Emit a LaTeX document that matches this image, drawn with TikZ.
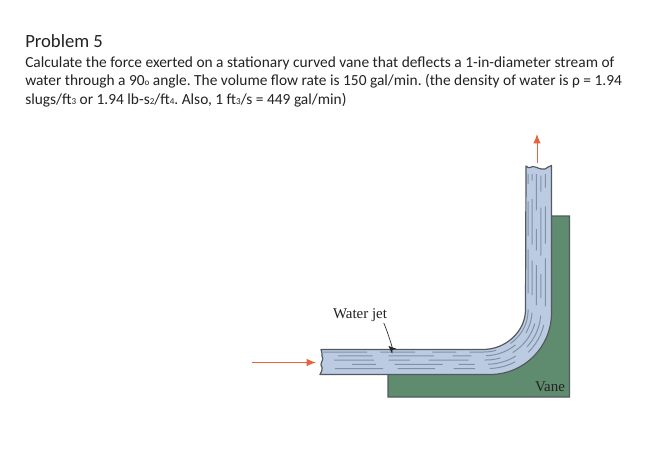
\documentclass[tikz,border=0pt]{standalone}
\usepackage{fontspec}
\setmainfont{Carlito}
\newfontfamily\figfont{Liberation Serif}
\usetikzlibrary{arrows.meta}
\definecolor{waterc}{HTML}{BACBE2}
\definecolor{vanec}{HTML}{5F8C6E}
\definecolor{edgec}{HTML}{55595F}
\definecolor{linec}{HTML}{8491A3}
\definecolor{redc}{HTML}{E9623F}
\definecolor{textc}{HTML}{222222}
\newcommand{\smallsub}[1]{{\fontsize{6.8}{7}\selectfont #1}}
\tikzset{
  titletext/.style={anchor=base west,inner sep=0pt,font=\fontsize{14}{16}\selectfont,text=textc},
  bodytext/.style={anchor=base west,inner sep=0pt,font=\fontsize{11.55}{13}\selectfont,text=textc},
  figlabel/.style={anchor=base,inner sep=0pt,font=\figfont\fontsize{11.2}{13}\selectfont,text=textc},
  flowarrow/.style={draw=redc,line width=0.7pt,-{Latex[length=7pt,width=5.5pt]}},
  pointer/.style={draw=black!85,line width=0.5pt,-{Stealth[length=6pt,width=5pt]}},
  vanebody/.style={fill=vanec,draw=edgec,line width=0.8pt},
  jetbody/.style={fill=waterc,draw=edgec,line width=0.9pt,line join=round},
  streamline/.style={draw=linec,line width=0.75pt},
  patA/.style={dash pattern=on 33pt off 10pt on 26pt off 13pt on 18pt off 10pt on 20pt off 12pt on 30pt off 12pt},
  patB/.style={dash pattern=on 26pt off 12pt on 34pt off 14pt on 14pt off 11pt on 24pt off 12pt on 16pt off 13pt},
  patC/.style={dash pattern=on 30pt off 11pt on 16pt off 14pt on 30pt off 12pt on 12pt off 10pt on 28pt off 14pt},
  patD/.style={dash pattern=on 18pt off 14pt on 36pt off 12pt on 12pt off 10pt on 22pt off 11pt on 26pt off 13pt},
  patE/.style={dash pattern=on 36pt off 11pt on 28pt off 14pt on 16pt off 11pt on 20pt off 12pt on 24pt off 14pt}
}
\begin{document}
\begin{tikzpicture}[x=0.75pt,y=-0.75pt]
\frenchspacing
\useasboundingbox (0,0) rectangle (667,462);
\fill[white] (0,0) rectangle (667,462);
\node[titletext] (title) at (25,47) {Problem 5};
\node[bodytext] (l1) at (25,67.5) {Calculate the force exerted on a stationary curved vane that deflects a 1-in-diameter stream of};
\node[bodytext] (l2) at (25,85.7) {water through a 90\smallsub{o} angle. The volume flow rate is 150 gal/min. (the density of water is ρ = 1.94};
\node[bodytext] (l3) at (25,104) {slugs/ft\smallsub{3} or 1.94 lb-s\smallsub{2}/ft\smallsub{4}. Also, 1 ft\smallsub{3}/s = 449 gal/min)};
% vane
\draw[vanebody] (388,370) -- (388,397) -- (569.5,397) -- (569.5,216) -- (548,216) -- (548,320) -- (490,370) -- cycle;
% jet
\draw[jetbody] (321,349.5) -- (483,349.5)
  .. controls (506,349.5) and (525.5,331) .. (525.5,310)
  -- (526,166) .. controls (529,169) and (531,167) .. (533,166.5)
  .. controls (537,167) and (541,170) .. (545,169)
  .. controls (547,168) and (549,166) .. (551.5,165.5)
  -- (551.5,313)
  .. controls (551.5,347) and (524,374.5) .. (490,374.5)
  -- (320,374.5)
  .. controls (322,371) and (323,368) .. (321,365)
  .. controls (321,361) and (324,360) .. (322,356)
  .. controls (322,354) and (322,351) .. (321,349.5) -- cycle;
% streamlines
\foreach \t/\x/\pat in {0.10/323/patA,0.25/338/patB,0.42/334/patC,0.59/352/patD,0.76/335/patE}{
  \pgfmathsetmacro{\sx}{483+7*\t}
  \pgfmathsetmacro{\sy}{349.5+25*\t}
  \pgfmathsetmacro{\ex}{525.5+26*\t}
  \pgfmathsetmacro{\ey}{310+3*\t}
  \pgfmathsetmacro{\cax}{\sx+0.55*(\ex-\sx)}
  \pgfmathsetmacro{\cby}{\ey+0.55*(\sy-\ey)}
  \draw[streamline,\pat] (\x,\sy) -- (\sx,\sy)
    .. controls (\cax,\sy) and (\ex,\cby) .. (\ex,\ey) -- (\ex,174);
}
% labels and arrows
\node[figlabel] (wj) at (360,318) {Water jet};
\node[figlabel] (vn) at (550,391) {Vane};
\coordinate (wjtip) at (388.5,346);
\coordinate (inA) at (252,362.5);
\coordinate (inB) at (316,362.5);
\coordinate (outA) at (537,163);
\coordinate (outB) at (537,134);
\draw[pointer] (wj.south east) ++(-3.5,1.5) .. controls +(2,4) and +(5.5,5) .. (wjtip);
\draw[flowarrow] (inA) -- (inB);
\draw[flowarrow] (outA) -- (outB);
\end{tikzpicture}
\end{document}
